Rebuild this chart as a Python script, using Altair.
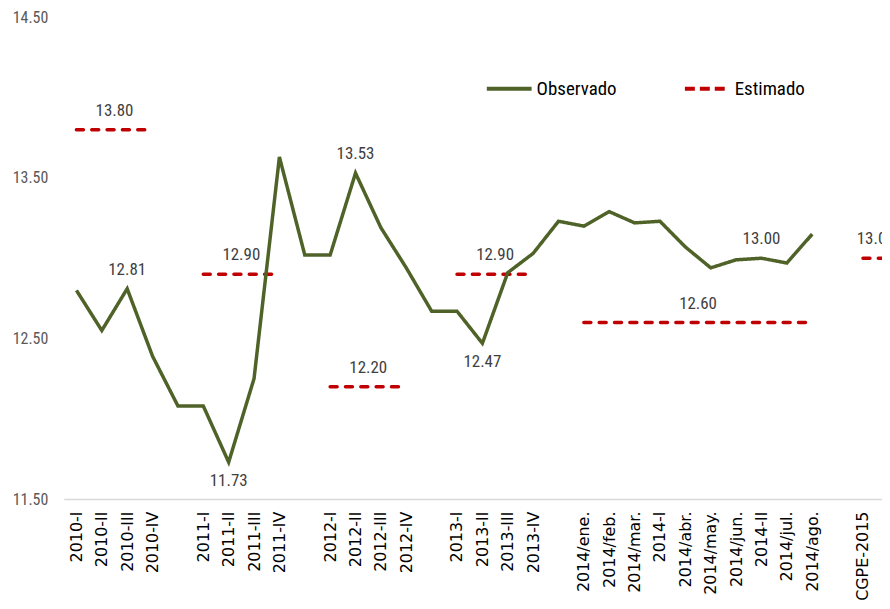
import json
import altair as alt
import pandas as pd

# ---------------- data ----------------
categories = ["2010-I", "2010-II", "2010-III", "2010-IV", "",
              "2011-I", "2011-II", "2011-III", "2011-IV", "",
              "2012-I", "2012-II", "2012-III", "2012-IV", "",
              "2013-I", "2013-II", "2013-III", "2013-IV", "",
              "2014/ene.", "2014/feb.", "2014/mar.", "2014-I", "2014/abr.",
              "2014/may.", "2014/jun.", "2014-II", "2014/jul.", "2014/ago.", "",
              "CGPE-2015"]

observed = [12.80, 12.55, 12.81, 12.39, 12.08,
            12.08, 11.73, 12.25, 13.63, 13.02,
            13.02, 13.53, 13.19, 12.94, 12.67,
            12.67, 12.47, 12.91, 13.03, 13.23,
            13.20, 13.29, 13.22, 13.23, 13.07,
            12.94, 12.99, 13.00, 12.97, 13.15, None,
            None]

obs_label_idx = [2, 6, 11, 16, 27]
obs_label_pos = ["above", "below", "above", "below", "above"]

est_values = [13.80, 12.90, 12.20, 12.90, 12.60, 13.00]
est_start = [0, 5, 10, 15, 20, 31]
est_end = [3, 8, 13, 18, 29, 32]

y_ticks = [11.5, 12.5, 13.5, 14.5]
series_names = ["Observado", "Estimado"]
series_colors = ["#4F6228", "#C00000"]

# ---------------- tables ----------------
obs_df = pd.DataFrame({"idx": list(range(len(categories))), "value": observed})
obs_df = obs_df.dropna()
obs_df["series"] = "Observado"

lab_df = pd.DataFrame({
    "idx": obs_label_idx,
    "value": [observed[i] for i in obs_label_idx],
    "pos": obs_label_pos,
})
lab_df["text"] = lab_df["value"].map(lambda v: f"{v:.2f}")

est_rows = []
for k, (v, s, e) in enumerate(zip(est_values, est_start, est_end)):
    est_rows.append({"idx": s, "value": v, "seg": k, "series": "Estimado"})
    est_rows.append({"idx": e, "value": v, "seg": k, "series": "Estimado"})
est_df = pd.DataFrame(est_rows)

est_lab_df = pd.DataFrame({
    "idx": [(s + e) / 2 for s, e in zip(est_start, est_end)],
    "value": est_values,
    "text": [f"{v:.2f}" for v in est_values],
})

# ---------------- encodings ----------------
NARROW = "Liberation Sans Narrow, Roboto Condensed, DejaVu Sans Condensed, Arial Narrow, sans-serif"
label_values = [i for i, c in enumerate(categories) if c]
label_expr = json.dumps(categories) + "[datum.value]"

x_enc = alt.X(
    "idx:Q",
    title=None,
    scale=alt.Scale(domain=[-0.5, 31.75], nice=False, zero=False),
    axis=alt.Axis(values=label_values, labelExpr=label_expr, labelAngle=-90,
                  labelOverlap=False, labelFlush=False, labelBound=False,
                  ticks=False, grid=False, domainColor="#D9D9D9", domainWidth=1.5,
                  labelFont="DejaVu Sans", labelFontSize=16, labelColor="#000000",
                  labelPadding=12),
)
y_enc = alt.Y(
    "value:Q",
    title=None,
    scale=alt.Scale(domain=[11.5, 14.5], nice=False, zero=False),
    axis=alt.Axis(values=y_ticks, format=".2f", domain=False, ticks=False, grid=False,
                  labelFont=NARROW, labelFontSize=16, labelColor="#595959",
                  labelPadding=16),
)

legend = alt.Legend(title=None, orient="none", legendX=423, legendY=47,
                    direction="horizontal", symbolType="stroke", symbolSize=2025,
                    symbolStrokeWidth=4, labelFont=NARROW, labelFontSize=19,
                    labelColor="#000000", columnPadding=60, labelOffset=3)

color_enc = alt.Color("series:N",
                      scale=alt.Scale(domain=series_names, range=series_colors),
                      legend=legend)
dash_enc = alt.StrokeDash("series:N",
                          scale=alt.Scale(domain=series_names, range=[[1, 0], [10, 5]]),
                          legend=legend)

est_line = alt.Chart(est_df).mark_line(
    strokeWidth=3.5, strokeDash=[7, 8.4], strokeCap="round", clip=True
).encode(x=x_enc, y=y_enc, detail="seg:N", color=color_enc)

obs_line = alt.Chart(obs_df).mark_line(
    strokeWidth=3.5, strokeJoin="miter"
).encode(x=x_enc, y=y_enc, color=color_enc, strokeDash=dash_enc)

text_style = dict(font=NARROW, fontSize=17, color="#404040", baseline="middle", align="center")

lab_above = alt.Chart(lab_df).transform_filter(alt.datum.pos == "above").mark_text(
    dy=-19, **text_style).encode(x=x_enc, y=y_enc, text="text:N")
lab_below = alt.Chart(lab_df).transform_filter(alt.datum.pos == "below").mark_text(
    dy=19, **text_style).encode(x=x_enc, y=y_enc, text="text:N")
est_labels = alt.Chart(est_lab_df).mark_text(dy=-19, clip=True, **text_style).encode(
    x=x_enc, y=y_enc, text="text:N")

chart = alt.layer(est_line, obs_line, lab_above, lab_below, est_labels).properties(
    width=822, height=484,
    padding={"left": 4, "top": 0, "right": 0, "bottom": 0},
    background="white",
).configure_view(stroke=None)

chart.save("out.html", embed_options={"renderer": "svg", "actions": False})
